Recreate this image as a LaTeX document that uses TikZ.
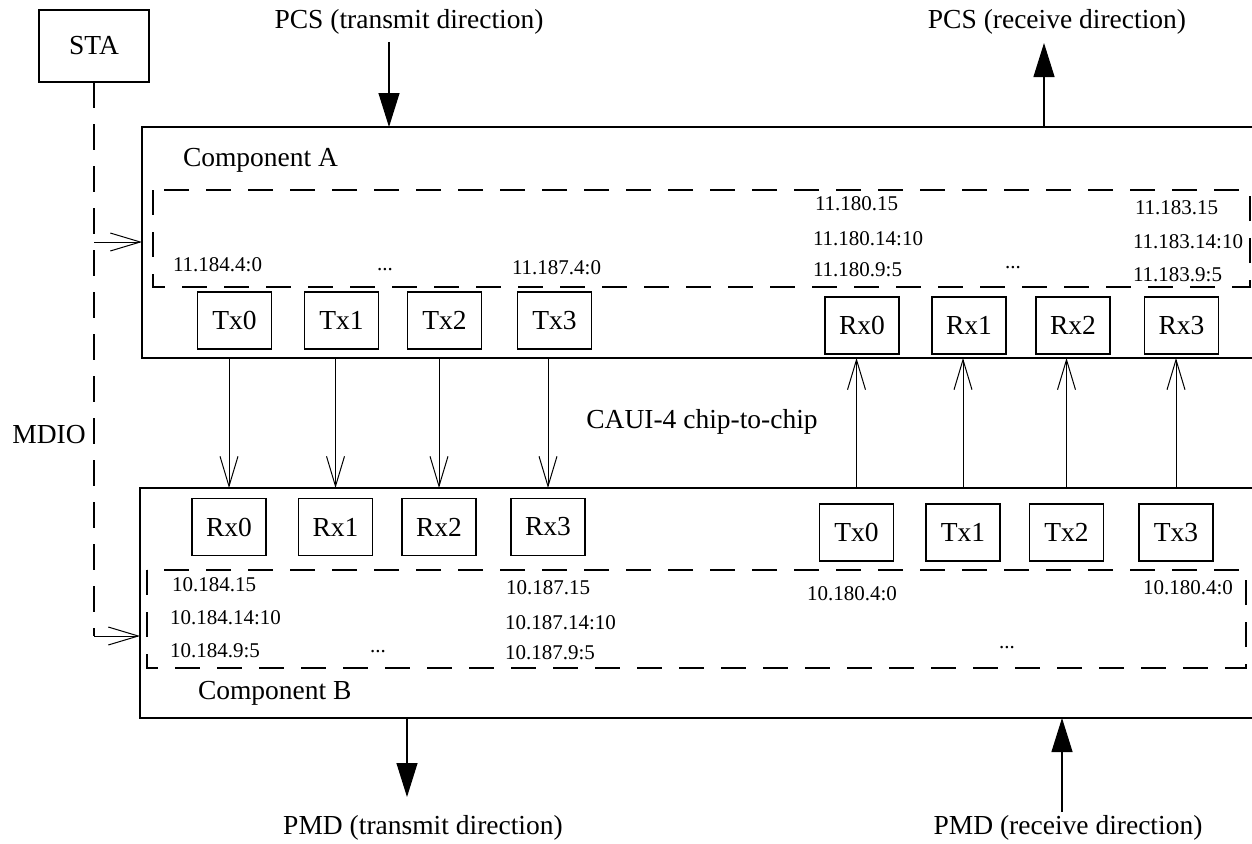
\documentclass[tikz,border=0pt]{standalone}
\usepackage{fontspec}
\setmainfont{Liberation Serif}
\usetikzlibrary{arrows.meta}
\begin{document}
\begin{tikzpicture}[x=1pt,y=-1pt,
  every node/.style={inner sep=0pt, outer sep=0pt},
  big/.style={font=\fontsize{27.5}{30}\selectfont},
  small/.style={font=\fontsize{21}{24}\selectfont},
  comp/.style={draw, line width=1.1pt},
  lane/.style={draw, line width=1.1pt, minimum width=74pt, minimum height=57pt, big},
  frame/.style={draw, line width=1.1pt, dash pattern=on 25pt off 17pt},
  wire/.style={line width=1pt, -{Straight Barb[length=30pt,width=18pt]}},
  flow/.style={line width=1.2pt, -{Triangle[length=34pt,width=21pt]}},
  bus/.style={line width=1.1pt, dash pattern=on 26pt off 16pt},
]
\path[use as bounding box] (0,0) rectangle (1252,843);
\clip (0,0) rectangle (1252,843);

% station management entity
\node[comp, minimum width=110pt, minimum height=72pt, big] (sta) at (94,46) {STA};
\node[big] (mdio) at (49,435) {MDIO};

% the two components (they run on past the right edge)
\node[comp, minimum width=1128pt, minimum height=231pt] (A) at (706,242.5) {};
\node[comp, minimum width=1130pt, minimum height=230pt] (B) at (705,603) {};
\node[big, anchor=west] (labA) at (183,160) {Component A};
\node[big, anchor=west] (labB) at (198,693) {Component B};

% register groups
\draw[frame] (153,190) rectangle (1250,287);
\draw[frame] (147,570) rectangle (1246,668);

% lanes of component A
\node[lane] (txA0) at (234.5,320.5) {Tx0};
\node[lane] (txA1) at (341.5,320.5) {Tx1};
\node[lane] (txA2) at (444.5,320.5) {Tx2};
\node[lane] (txA3) at (554.5,320.5) {Tx3};
\node[lane] (rxA0) at (862,325.5) {Rx0};
\node[lane] (rxA1) at (969,325.5) {Rx1};
\node[lane] (rxA2) at (1073,325.5) {Rx2};
\node[lane] (rxA3) at (1181.5,325.5) {Rx3};

% lanes of component B
\node[lane] (rxB0) at (229,527) {Rx0};
\node[lane] (rxB1) at (335.5,527) {Rx1};
\node[lane] (rxB2) at (439,527) {Rx2};
\node[lane] (rxB3) at (548,527) {Rx3};
\node[lane] (txB0) at (856.5,532.5) {Tx0};
\node[lane] (txB1) at (963,532.5) {Tx1};
\node[lane] (txB2) at (1066.5,532.5) {Tx2};
\node[lane] (txB3) at (1176,532.5) {Tx3};

% register addresses, component A
\node[small, anchor=west] (a1) at (173,265) {11.184.4:0};
\node[small] (a2) at (385,270) {...};
\node[small, anchor=west] (a3) at (512,268) {11.187.4:0};
\node[small, anchor=west] (a4) at (815,204) {11.180.15};
\node[small, anchor=west] (a5) at (813,239) {11.180.14:10};
\node[small, anchor=west] (a6) at (813,270) {11.180.9:5};
\node[small] (a7) at (1013,268) {...};
\node[small, anchor=west] (a8) at (1135,208) {11.183.15};
\node[small, anchor=west] (a9) at (1133,242) {11.183.14:10};
\node[small, anchor=west] (a10) at (1133,275) {11.183.9:5};

% register addresses, component B
\node[small, anchor=west] (b1) at (172,585) {10.184.15};
\node[small, anchor=west] (b2) at (170,618) {10.184.14:10};
\node[small, anchor=west] (b3) at (170,651) {10.184.9:5};
\node[small] (b4) at (378,652) {...};
\node[small, anchor=west] (b5) at (506,588) {10.187.15};
\node[small, anchor=west] (b6) at (505,623) {10.187.14:10};
\node[small, anchor=west] (b7) at (505,653) {10.187.9:5};
\node[small, anchor=west] (b8) at (807,594) {10.180.4:0};
\node[small] (b9) at (1007,648) {...};
\node[small, anchor=west] (b10) at (1143,588) {10.180.4:0};

% chip-to-chip lanes
\node[big] (caui) at (702,422) {CAUI-4 chip-to-chip};
\foreach \i in {0,...,3} {
  \draw[wire] (rxB\i |- A.south) -- (rxB\i |- B.north);
  \draw[wire] (txB\i |- B.north) -- (txB\i |- A.south);
}

% MDIO bus
\coordinate (mdA) at (94,242);
\coordinate (mdB) at (94,636);
\draw[bus] (sta.south) -- (mdB);
\draw[wire] (mdA) -- (mdA -| A.west);
\draw[wire] (mdB) -- (mdB -| B.west);

% PCS and PMD data paths
\node[big] (pcsT) at (409,22) {PCS (transmit direction)};
\node[big] (pcsR) at (1057,22) {PCS (receive direction)};
\node[big] (pmdT) at (423,828) {PMD (transmit direction)};
\node[big] (pmdR) at (1068,828) {PMD (receive direction)};
\coordinate (pcsTin) at (389,42);
\coordinate (pcsRout) at (1044,43);
\coordinate (pmdTout) at (407,797);
\coordinate (pmdRin) at (1062,812);
\draw[flow] (pcsTin) -- (pcsTin |- A.north);
\draw[flow] (pcsRout |- A.north) -- (pcsRout);
\draw[flow] (pmdTout |- B.south) -- (pmdTout);
\draw[flow] (pmdRin) -- (pmdRin |- B.south);
\end{tikzpicture}
\end{document}
